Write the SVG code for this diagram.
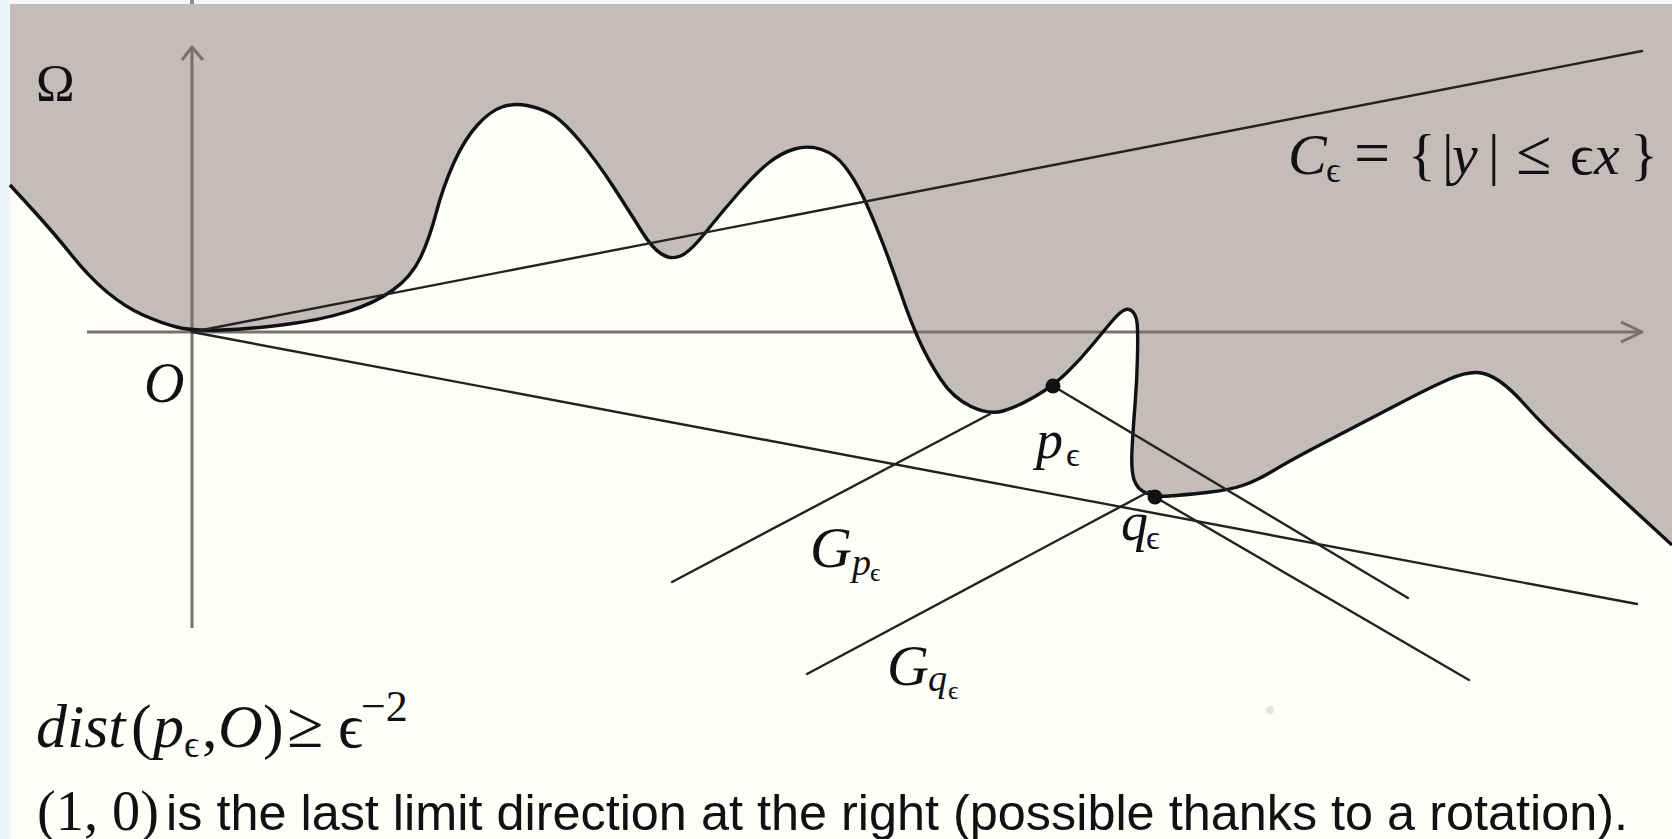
<svg xmlns="http://www.w3.org/2000/svg" width="1672" height="839" viewBox="0 0 1672 839">
<style>
.m{font-family:"Liberation Serif","DejaVu Serif",serif;fill:#111}
.i{font-style:italic}
.s{font-family:"Liberation Sans",Arial,sans-serif;fill:#111}
.ln{stroke:#222;stroke-width:2.4;fill:none;stroke-linecap:round}
.ax{stroke:#78716f;stroke-width:3;fill:none}
.bd{stroke:#111;stroke-width:3.4;fill:none;stroke-linejoin:round}
</style>
<defs>
<path id="bnd" d="M10,185 L32,209 Q54,233 71.5,255 Q89,277 107,292 Q125,307 143,315 Q161,323 176.5,327 Q192,331 221,330 Q250,329 285.5,324.5 Q321,320 348,311.5 Q375,303 393,290 Q411,277 420,258.5 Q429,240 436,213.5 Q443,187 453.5,163.5 Q464,140 477,125.5 Q490,111 502,107 Q514,103 527,105.5 Q540,108 551,114 Q562,120 579,140 Q596,160 613.5,187 Q631,214 641.5,231 Q652,248 661.5,254 Q671,260 680.5,256 Q690,252 705.5,232.5 Q721,213 738.5,193 Q756,173 768.5,163 Q781,153 794.5,149 Q808,145 821.5,149.5 Q835,154 844.5,166 Q854,178 862.5,195.5 Q871,213 881.5,240 Q892,267 901,293.5 Q910,320 919,340 Q928,360 940.5,379 Q953,398 971,406.5 Q989,415 1003,411 Q1017,407 1035,396.5 Q1053,386 1066.5,373 Q1080,360 1093.5,343.5 Q1107,327 1113.5,319.5 Q1120,312 1124.5,310 Q1129,308 1132.5,311.5 Q1136,315 1137,322.5 Q1138,330 1137.5,355 Q1137,380 1135,405 Q1133,430 1132,450 Q1131,470 1134,479.5 Q1137,489 1146,493 Q1155,497 1169,496 Q1183,495 1206.5,492.5 Q1230,490 1244,485 Q1258,480 1274.5,470 Q1291,460 1326.5,441.5 Q1362,423 1397.5,404.5 Q1433,386 1449.5,379 Q1466,372 1477,372.5 Q1488,373 1500,381.5 Q1512,390 1526.5,406.5 Q1541,423 1576.5,456.5 Q1612,490 1642,517.5 L1672,545"/>
</defs>
<g id="background">
<rect x="0" y="0" width="1672" height="839" fill="#f4f8fb"/>
<rect x="0" y="0" width="10" height="839" fill="#edf5fd"/>
<rect x="10" y="4" width="1662" height="835" fill="#fefefa"/>
</g>
<g id="region-omega">
<path d="M10,185 L32,209 Q54,233 71.5,255 Q89,277 107,292 Q125,307 143,315 Q161,323 176.5,327 Q192,331 221,330 Q250,329 285.5,324.5 Q321,320 348,311.5 Q375,303 393,290 Q411,277 420,258.5 Q429,240 436,213.5 Q443,187 453.5,163.5 Q464,140 477,125.5 Q490,111 502,107 Q514,103 527,105.5 Q540,108 551,114 Q562,120 579,140 Q596,160 613.5,187 Q631,214 641.5,231 Q652,248 661.5,254 Q671,260 680.5,256 Q690,252 705.5,232.5 Q721,213 738.5,193 Q756,173 768.5,163 Q781,153 794.5,149 Q808,145 821.5,149.5 Q835,154 844.5,166 Q854,178 862.5,195.5 Q871,213 881.5,240 Q892,267 901,293.5 Q910,320 919,340 Q928,360 940.5,379 Q953,398 971,406.5 Q989,415 1003,411 Q1017,407 1035,396.5 Q1053,386 1066.5,373 Q1080,360 1093.5,343.5 Q1107,327 1113.5,319.5 Q1120,312 1124.5,310 Q1129,308 1132.5,311.5 Q1136,315 1137,322.5 Q1138,330 1137.5,355 Q1137,380 1135,405 Q1133,430 1132,450 Q1131,470 1134,479.5 Q1137,489 1146,493 Q1155,497 1169,496 Q1183,495 1206.5,492.5 Q1230,490 1244,485 Q1258,480 1274.5,470 Q1291,460 1326.5,441.5 Q1362,423 1397.5,404.5 Q1433,386 1449.5,379 Q1466,372 1477,372.5 Q1488,373 1500,381.5 Q1512,390 1526.5,406.5 Q1541,423 1576.5,456.5 Q1612,490 1642,517.5 L1672,545 L1672,4 L10,4 Z" fill="#c3bcba"/>
</g>
<g id="axes">
<line class="ax" x1="87" y1="332" x2="1641" y2="332"/>
<polyline class="ax" points="1621,322 1642,332 1621,342" stroke-linejoin="round"/>
<line class="ax" x1="192" y1="47" x2="192" y2="628"/>
<polyline class="ax" points="182,60 192,47 203,60" stroke-linejoin="round"/>
<rect x="190" y="0" width="4" height="4" fill="#8a8a8a"/>
</g>
<g id="boundary">
<use href="#bnd" class="bd"/>
</g>
<g id="connectors">
<line class="ln" x1="192" y1="332" x2="1642" y2="51"/>
<line class="ln" x1="192" y1="332" x2="1637" y2="604"/>
<line class="ln" x1="1053" y1="386" x2="1408" y2="598"/>
<line class="ln" x1="1155" y1="497" x2="1469" y2="680"/>
<line class="ln" x1="672" y1="582" x2="990" y2="414"/>
<line class="ln" x1="807" y1="674" x2="1150" y2="491"/>
</g>
<g id="point-p">
<circle cx="1053" cy="386" r="7.5" fill="#111"/>
<text class="m i" x="1036" y="458" font-size="54">p</text>
<text class="m" x="1066" y="466" font-size="34">ϵ</text>
</g>
<g id="point-q">
<circle cx="1155" cy="497" r="7.5" fill="#111"/>
<text class="m i" x="1121" y="540" font-size="54">q</text>
<text class="m" x="1146" y="549" font-size="34">ϵ</text>
</g>
<g id="label-omega">
<text class="m" x="36" y="101" font-size="52">Ω</text>
</g>
<g id="label-origin">
<text class="m i" x="144" y="402" font-size="56">O</text>
</g>
<g id="label-cone">
<text class="m" y="174" font-size="58"><tspan class="i" x="1288">C</tspan><tspan x="1326" y="182" font-size="36">ϵ</tspan><tspan x="1354" y="174" font-size="64">=</tspan><tspan x="1408">{</tspan><tspan x="1442">|</tspan><tspan class="i" x="1452">y</tspan><tspan x="1488">|</tspan><tspan x="1516" font-size="64">≤</tspan><tspan x="1570">ϵ</tspan><tspan class="i" x="1594">x</tspan><tspan x="1630">}</tspan></text>
</g>
<g id="label-Gp">
<text class="m i" x="810" y="567" font-size="58">G</text>
<text class="m i" x="852" y="575" font-size="38">p</text>
<text class="m" x="870" y="581" font-size="26">ϵ</text>
</g>
<g id="label-Gq">
<text class="m i" x="887" y="685" font-size="58">G</text>
<text class="m i" x="928" y="691" font-size="38">q</text>
<text class="m" x="948" y="699" font-size="26">ϵ</text>
</g>
<g id="label-dist">
<text class="m" y="747" font-size="62"><tspan class="i" x="36">dist</tspan><tspan x="131">(</tspan><tspan class="i" x="153">p</tspan><tspan x="184" y="757" font-size="38">ϵ</tspan><tspan x="202" y="747">,</tspan><tspan class="i" x="218">O</tspan><tspan x="263">)</tspan><tspan x="287" font-size="66">≥</tspan><tspan x="338">ϵ</tspan><tspan x="361" y="721" font-size="44">−2</tspan></text>
</g>
<g id="label-direction">
<text class="m" x="37" y="830" font-size="56" textLength="122" lengthAdjust="spacingAndGlyphs">(1, 0)</text>
<text class="s" x="166" y="830" font-size="50" textLength="1462" lengthAdjust="spacingAndGlyphs">is the last limit direction at the right (possible thanks to a rotation).</text>
</g>
<circle cx="1270" cy="710" r="4" fill="#e4e4e0"/>
</svg>
